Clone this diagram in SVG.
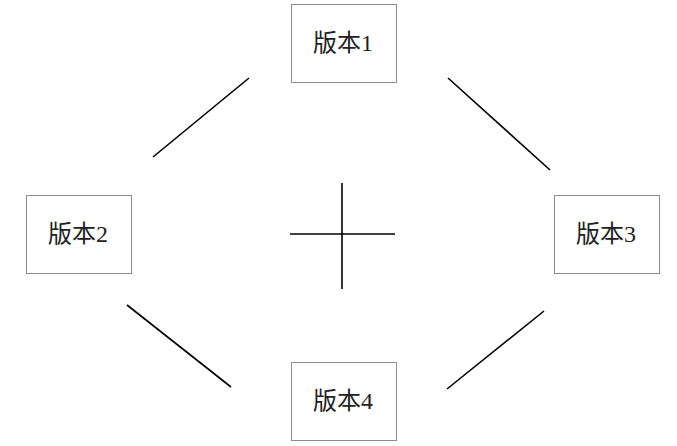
<svg xmlns="http://www.w3.org/2000/svg" width="677" height="446" viewBox="0 0 677 446">
<style>
.box{fill:#fff;stroke:#8c8c8c;stroke-width:1}
.lbl{font-family:"Liberation Serif","Noto Sans CJK SC",serif;font-size:24px;fill:#222;text-anchor:middle;dominant-baseline:central}
.ln{stroke:#000;stroke-width:1.6;fill:none}
</style>
<rect width="677" height="446" fill="#fff"/>
<g id="v1"><rect class="box" x="291.5" y="4.5" width="105" height="78"/><text class="lbl" x="343" y="43">版本1</text></g>
<g id="v2"><rect class="box" x="26.5" y="195.5" width="105" height="78"/><text class="lbl" x="78" y="234">版本2</text></g>
<g id="v3"><rect class="box" x="554.5" y="195.5" width="105" height="78"/><text class="lbl" x="606" y="234">版本3</text></g>
<g id="v4"><rect class="box" x="291.5" y="362.5" width="105" height="78"/><text class="lbl" x="343" y="401">版本4</text></g>
<g id="connectors">
<line class="ln" x1="153" y1="157" x2="249" y2="78"/>
<line class="ln" x1="448" y1="78" x2="550" y2="170"/>
<line class="ln" x1="127" y1="305" x2="231" y2="387"/>
<line class="ln" x1="544" y1="311" x2="447" y2="389"/>
<line class="ln" x1="342" y1="183" x2="342" y2="289"/>
<line class="ln" x1="290" y1="234" x2="395" y2="234"/>
</g>
</svg>
